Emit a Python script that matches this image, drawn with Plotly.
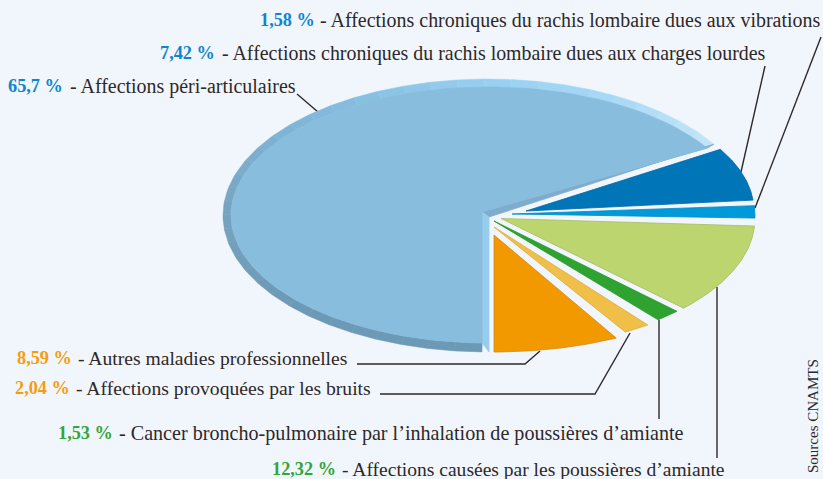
import math
import plotly.graph_objects as go

# ---- data ----
categories = ["Affections péri-articulaires",
              "Affections chroniques du rachis lombaire dues aux charges lourdes",
              "Affections chroniques du rachis lombaire dues aux vibrations",
              "Affections causées par les poussières d’amiante",
              "Cancer broncho-pulmonaire par l’inhalation de poussières d’amiante",
              "Affections provoquées par les bruits",
              "Autres maladies professionnelles"]
values = [65.7, 7.42, 1.58, 12.32, 1.53, 2.04, 8.59]
value_labels = ["65,7 %", "7,42 %", "1,58 %", "12,32 %", "1,53 %", "2,04 %", "8,59 %"]
source_label = "Sources CNAMTS"

# ---- style ----
BG = "#f1f6fd"
TXT = "#2e2828"
BLUE_T, ORANGE_T, GREEN_T = "#0f86cc", "#f59d0d", "#35a53a"
fills = ["#88bddd", "#0075b8", "#009ada", "#bdd56e", "#2fa32f", "#f0bf47", "#f29900"]
edges = ["#88bddd", "#0068a6", "#0088c4", "#a6bb64", "#2b962b", "#dcaa3e", "#d28a14"]
label_colors = [BLUE_T, BLUE_T, BLUE_T, GREEN_T, GREEN_T, ORANGE_T, ORANGE_T]
# percent x, description x, y, description font size
label_pos = [(6, 68, 86, 19.95), (158, 220, 53, 19.9), (258, 318, 20, 19.96), (270, 340, 469, 19.55),
             (56, 117, 433, 20.13), (13, 74, 388, 19.65), (15, 76, 358, 19.6)]
# wedge geometry in px: apex x, apex y, ellipse centre x, centre y, rx, ry
geom = [(482, 212, 488, 215, 257, 128),
        (526, 211, 526, 211, 228, 118),
        (512, 214, 512, 214, 243, 120),
        (501, 218.5, 501, 218.5, 254, 129),
        (494, 221, 494, 221, 258, 128),
        (494, 227, 494, 227, 258, 122),
        (494, 235, 494, 235, 258, 117)]
# angular inset (start, end) that opens the gaps between the exploded wedges
insets = [(-1.3, 0), (0, 0.7), (-0.3, -0.8), (-2.2, 1.8), (1, 0.9), (-2, -0.6), (-2.9, 0)]
rim_stops = [(31, (198, 230, 249)), (60, (170, 218, 246)), (90, (152, 209, 242)),
             (130, (130, 185, 220)), (180, (118, 163, 190)), (225, (108, 153, 181)), (270, (108, 153, 181))]
leaders = [[(821, 37), (755, 208)], [(765, 66), (741, 172)], [(297, 94), (318, 112)],
           [(357, 364), (525, 364), (540, 351)], [(380, 394), (595, 394), (630, 333)],
           [(659, 320), (659, 419)], [(717, 287), (717, 458)]]


def arc(cx, cy, rx, ry, a0, a1, n=80):
    pts = [a0 + (a1 - a0) * i / n for i in range(n + 1)]
    return ([cx + rx * math.cos(math.radians(a)) for a in pts],
            [cy - ry * math.sin(math.radians(a)) for a in pts])


def poly(fig, xs, ys, fill, line=None, w=0.8):
    fig.add_trace(go.Scatter(x=xs + xs[:1], y=ys + ys[:1], mode="lines", fill="toself",
                             fillcolor=fill, line=dict(color=line or fill, width=w),
                             hoverinfo="skip", showlegend=False))


total = sum(values)
angles = [270.0]
for v in values:
    angles.append(angles[-1] - v / total * 360)

fig = go.Figure()
ax, ay, cx, cy, rx, ry = geom[0]
start = angles[0] + insets[0][0]
end = angles[1] + insets[0][1]
RIM_X, RIM_Y = 8, 8.5

# rim of the large slice, in short segments going round
def rim_color(a):
    a = a % 360
    for (a0, c0), (a1, c1) in zip(rim_stops, rim_stops[1:]):
        if a0 <= a <= a1:
            t = (a - a0) / (a1 - a0)
            return "rgb(%d,%d,%d)" % tuple(c0[i] + (c1[i] - c0[i]) * t for i in range(3))
    return "rgb(%d,%d,%d)" % rim_stops[0][1]

n_seg = 40
for i in range(n_seg):
    a0 = start + (end - start) * i / n_seg
    a1 = start + (end - start) * (i + 1) / n_seg
    ox, oy = arc(cx, cy + 0.5, rx + RIM_X, ry + RIM_Y, a0, a1, 6)
    ix, iy = arc(cx, cy, rx, ry, a1, a0, 6)
    col = rim_color((a0 + a1) / 2)
    poly(fig, ox + ix, oy + iy, col, col, 0.5)

# cut faces of the large slice
sx, sy = arc(cx, cy, rx, ry, start, end, 1)
ox, oy = arc(cx, cy + 0.5, rx + RIM_X, ry + RIM_Y, start, end, 1)
poly(fig, [ax, ax + 7, ox[1], sx[1]], [ay, ay + 5, oy[1], sy[1]], "#7fabcd")
poly(fig, [ax, ax + 7, ax + 7, sx[0]], [ay, ay + 5, oy[0], sy[0]], "#97cdec")

# slices
for k in range(len(values)):
    ax, ay, cx, cy, rx, ry = geom[k]
    a0, a1 = angles[k] + insets[k][0], angles[k + 1] + insets[k][1]
    xs, ys = arc(cx, cy, rx, ry, a0, a1)
    poly(fig, [ax] + xs, [ay] + ys, fills[k], edges[k])

shapes = []
for pts in leaders:
    path = "M " + " L ".join(f"{x},{y}" for x, y in pts)
    shapes.append(dict(type="path", path=path, xref="x", yref="y", layer="below",
                       line=dict(color="#2e2828", width=1.4)))

annots = []
for lab, cat, col, (px, tx, y, fs) in zip(value_labels, categories, label_colors, label_pos):
    annots.append(dict(x=px, y=y, xref="x", yref="y", xanchor="left", yanchor="middle",
                       showarrow=False, text=f"<b>{lab}</b>",
                       font=dict(family="Liberation Serif", size=18.3, color=col)))
    annots.append(dict(x=tx, y=y, xref="x", yref="y", xanchor="left", yanchor="middle",
                       showarrow=False, text=f"- {cat}",
                       font=dict(family="Liberation Serif", size=fs, color=TXT)))
annots.append(dict(x=813, y=416, xref="x", yref="y", xanchor="center", yanchor="middle",
                   showarrow=False, textangle=-90, text=source_label,
                   font=dict(family="Liberation Serif", size=15, color=TXT)))

fig.update_layout(width=823, height=479, margin=dict(l=0, r=0, t=0, b=0),
                  paper_bgcolor=BG, plot_bgcolor=BG, showlegend=False,
                  shapes=shapes, annotations=annots,
                  xaxis=dict(range=[0, 823], visible=False, fixedrange=True),
                  yaxis=dict(range=[479, 0], visible=False, fixedrange=True))
fig.write_html("out.html", config={"displayModeBar": False},
               post_script=f"document.body.style.margin='0';document.body.style.background='{BG}';document.documentElement.style.overflow='hidden';")
